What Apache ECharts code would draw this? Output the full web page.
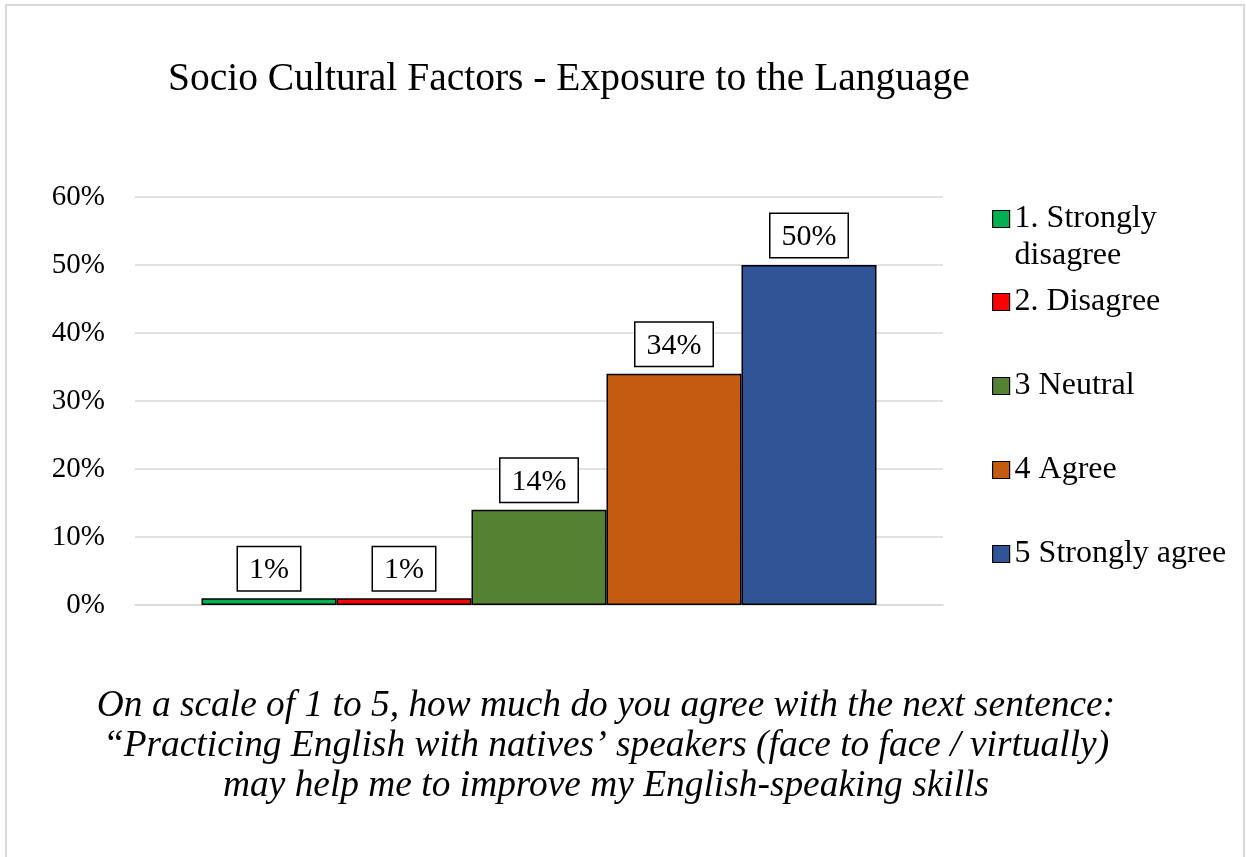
<!DOCTYPE html>
<html>
<head>
<meta charset="utf-8">
<script src="https://cdn.jsdelivr.net/npm/echarts@6/dist/echarts.min.js"></script>
<style>
  html, body { margin: 0; padding: 0; background: #fff; overflow: hidden; }
  #frame { position: absolute; left: 5px; top: 4px; width: 1240px; height: 900px; border: 2px solid #d9d9d9; box-sizing: border-box; }
  #chart { position: absolute; left: 0; top: 0; width: 1246px; height: 857px; }
</style>
</head>
<body>
<div id="frame"></div>
<div id="chart"></div>
<script>
// Survey answers, share of respondents per option
const seriesNames = ['1. Strongly disagree', '2. Disagree', '3 Neutral', '4 Agree', '5 Strongly agree'];
// the first label wraps; a leading blank line keeps its first line level with the swatch
const legendLabels = ['\n1. Strongly\ndisagree', '2. Disagree', '3 Neutral', '4 Agree', '5 Strongly agree'];
const seriesValues = [0.01, 0.01, 0.14, 0.34, 0.50];
const seriesColors = ['#00b050', '#ff0000', '#548235', '#c55a11', '#2f5597'];
const categories = [''];
const titleText = 'Socio Cultural Factors - Exposure to the Language';
const questionLines = [
  'On a scale of 1 to 5, how much do you agree with the next sentence:',
  '\u201cPracticing English with natives\u2019 speakers (face to face / virtually)',
  'may help me to improve my English-speaking skills'
];

const FONT = '"Liberation Serif", "Times New Roman", serif';
const pct = v => Math.round(v * 100) + '%';

const chart = echarts.init(document.getElementById('chart'), null, { renderer: 'canvas' });

// one legend block per series so the rows keep an even spacing
const legendCenters = [219, 302, 386, 470, 554];
const LH = 37;
const legends = seriesNames.map((name, i) => {
  const lines = legendLabels[i].split('\n').length;
  return {
    orient: 'vertical',
    left: 992,
    top: legendCenters[i] - LH * lines / 2,
    padding: 0,
    itemWidth: 17,
    itemHeight: 17,
    itemGap: 0,
    icon: 'rect',
    selectedMode: false,
    itemStyle: { borderColor: '#000', borderWidth: 1.2 },
    formatter: () => legendLabels[i],
    textStyle: { fontFamily: FONT, fontSize: 32, color: '#000', lineHeight: LH },
    data: [name]
  };
});

chart.setOption({
  animation: false,
  backgroundColor: 'transparent',
  textStyle: { fontFamily: FONT },
  legend: legends,
  grid: { left: 135, right: 303, top: 197, bottom: 252, containLabel: false },
  xAxis: {
    type: 'category',
    data: categories,
    axisLine: { show: true, lineStyle: { color: '#d9d9d9', width: 1.5 } },
    axisTick: { show: false },
    axisLabel: { show: false }
  },
  yAxis: {
    type: 'value',
    min: 0, max: 0.6, interval: 0.1,
    axisLine: { show: false },
    axisTick: { show: false },
    splitLine: { lineStyle: { color: '#d9d9d9', width: 1.5 } },
    axisLabel: {
      formatter: pct, fontFamily: FONT, fontSize: 29, color: '#000', margin: 30
    }
  },
  series: seriesNames.map((name, i) => ({
    type: 'bar',
    name: name,
    data: [seriesValues[i]],
    barWidth: 135,
    barGap: '0%',
    itemStyle: { color: seriesColors[i], borderColor: '#000', borderWidth: 1.5 },
    label: {
      show: true,
      position: 'top',
      distance: 8,
      formatter: p => pct(p.value),
      fontFamily: FONT,
      fontSize: 30,
      lineHeight: 32,
      color: '#000',
      backgroundColor: '#fff',
      borderColor: '#000',
      borderWidth: 1.5,
      padding: [7, 11, 4, 11]
    }
  })),
  graphic: [
    {
      type: 'text', left: 168, top: 60,
      style: { text: titleText, font: '39.5px ' + FONT, fill: '#000' }
    },
    {
      type: 'text', x: 606, y: 686,
      style: {
        text: questionLines.join('\n'),
        font: 'italic 37.4px ' + FONT,
        fill: '#000',
        align: 'center',
        lineHeight: 40
      }
    }
  ]
});
</script>
</body>
</html>
